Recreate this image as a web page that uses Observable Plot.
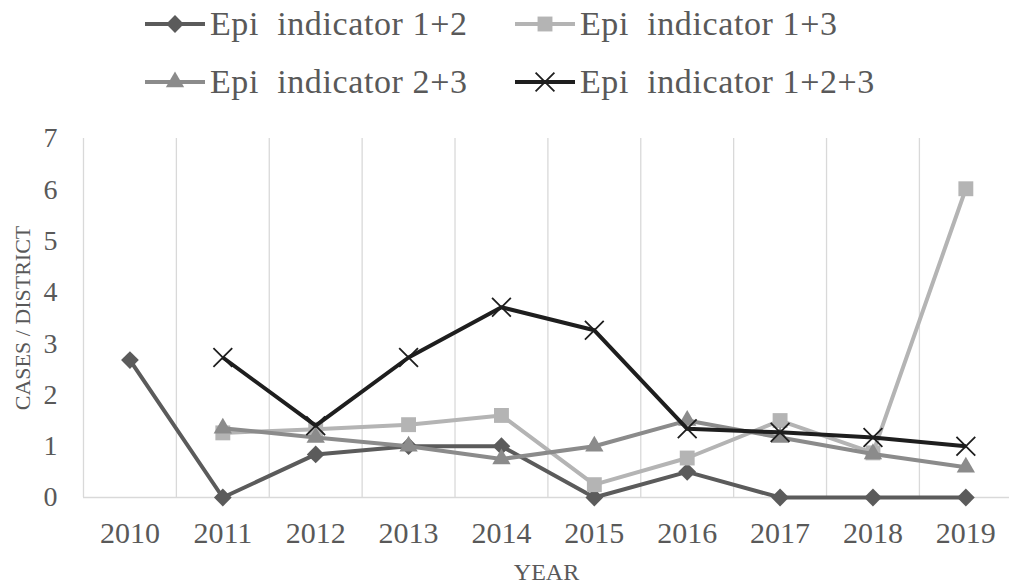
<!DOCTYPE html>
<html>
<head>
<meta charset="utf-8">
<script src="https://cdn.jsdelivr.net/npm/d3@7"></script>
<script src="https://cdn.jsdelivr.net/npm/@observablehq/plot@0.6"></script>
<style>
  body { margin: 0; background: #fff; }
  #legend, #chart svg { display: block; }
  text { white-space: pre; }
</style>
</head>
<body>
<svg id="legend" width="1009" height="110"></svg>
<div id="chart"></div>
<script>
// ---- data ----
const years = [2010, 2011, 2012, 2013, 2014, 2015, 2016, 2017, 2018, 2019];
const epi12  = [2.68, 0, 0.84, 1.0, 1.0, 0, 0.5, 0, 0, 0];
const epi13  = [null, 1.26, 1.33, 1.42, 1.6, 0.25, 0.77, 1.5, 0.87, 6.02];
const epi23  = [null, 1.35, 1.17, 1.0, 0.75, 1.0, 1.5, 1.17, 0.85, 0.59];
const epi123 = [null, 2.73, 1.4, 2.73, 3.71, 3.26, 1.34, 1.27, 1.17, 1.0];
const seriesNames = ["Epi  indicator 1+2", "Epi  indicator 1+3", "Epi  indicator 2+3", "Epi  indicator 1+2+3"];
const seriesValues = [epi12, epi13, epi23, epi123];
const yTicks = [0, 1, 2, 3, 4, 5, 6, 7];
const xTitle = "YEAR";
const yTitle = "CASES / DISTRICT";

// ---- styles ----
const colors = ["#5b5b5b", "#b4b4b4", "#8b8b8b", "#1e1e1e"];
const symbols = ["diamond2", "square", "triangle", "times"];
const radii = [8, 8.4, 6.8, 8.6];
const textColor = "#595959";
const gridColor = "#d9d9d9";
const font = "'Liberation Serif', 'Times New Roman', serif";

const rows = [];
seriesNames.forEach((name, s) => {
  years.forEach((yr, i) => rows.push({series: name, s, year: yr, value: seriesValues[s][i]}));
});

const boundaries = years.map(y => y - 0.5);

const marks = [
  Plot.ruleX(boundaries, {y1: 0, y2: 7, stroke: gridColor, strokeWidth: 1.3}),
  Plot.ruleY([0], {x1: years[0] - 0.5, x2: years[years.length - 1] + 0.47, stroke: gridColor, strokeWidth: 1.5}),
  Plot.axisY(yTicks, {tickSize: 0, tickPadding: 26, fontSize: 28, fill: textColor, label: null, tickFormat: d => String(d)}),
  Plot.axisX(years, {tickSize: 0, tickPadding: 24, fontSize: 30, fill: textColor, label: null, tickFormat: d => String(d), style: "letter-spacing:4px"}),
  Plot.text([yTitle], {frameAnchor: "left", textAnchor: "middle", rotate: -90, dx: -61, fontSize: 22, fill: textColor}),
  Plot.text([xTitle], {frameAnchor: "bottom", dy: 82, fontSize: 24, fill: textColor})
];

seriesNames.forEach((name, s) => {
  const data = rows.filter(d => d.s === s);
  marks.push(Plot.line(data, {x: "year", y: "value", stroke: colors[s], strokeWidth: 4, strokeLinejoin: "round", strokeLinecap: "butt"}));
  if (symbols[s] === "times") {
    marks.push(Plot.dot(data.filter(d => d.value != null), {x: "year", y: "value", symbol: "times", r: radii[s], stroke: colors[s], strokeWidth: 1.8, fill: "none"}));
  } else {
    marks.push(Plot.dot(data.filter(d => d.value != null), {x: "year", y: "value", symbol: symbols[s], r: radii[s], fill: colors[s], stroke: "none"}));
  }
});

const chart = Plot.plot({
  width: 1009,
  height: 474,
  marginLeft: 83,
  marginRight: 0,
  marginTop: 28,
  marginBottom: 87,
  style: {fontFamily: font, background: "#fff", overflow: "visible"},
  x: {type: "linear", domain: [years[0] - 0.5, years[years.length - 1] + 0.47], axis: null},
  y: {domain: [0, 7], axis: null},
  marks
});
document.getElementById("chart").appendChild(chart);

// ---- legend ----
const legend = d3.select("#legend");
const pos = [
  {sx: 145, tx: 210, cy: 24, by: 35},
  {sx: 515, tx: 580, cy: 24, by: 35},
  {sx: 145, tx: 210, cy: 82, by: 93},
  {sx: 515, tx: 580, cy: 82, by: 93}
];
const d3sym = {diamond2: d3.symbolDiamond2, square: d3.symbolSquare, triangle: d3.symbolTriangle, times: d3.symbolTimes};
seriesNames.forEach((name, s) => {
  const p = pos[s];
  const g = legend.append("g");
  g.append("line").attr("x1", p.sx).attr("x2", p.sx + 60).attr("y1", p.cy).attr("y2", p.cy)
    .attr("stroke", colors[s]).attr("stroke-width", 4);
  const path = d3.symbol(d3sym[symbols[s]], Math.PI * radii[s] * radii[s])();
  const sp = g.append("path").attr("d", path).attr("transform", `translate(${p.sx + 30},${p.cy})`);
  if (symbols[s] === "times") sp.attr("fill", "none").attr("stroke", colors[s]).attr("stroke-width", 1.8);
  else sp.attr("fill", colors[s]);
  g.append("text").attr("x", p.tx).attr("y", p.by).text(name)
    .attr("font-family", font).attr("font-size", 34).attr("fill", textColor)
    .attr("letter-spacing", 0.6);
});
</script>
</body>
</html>
